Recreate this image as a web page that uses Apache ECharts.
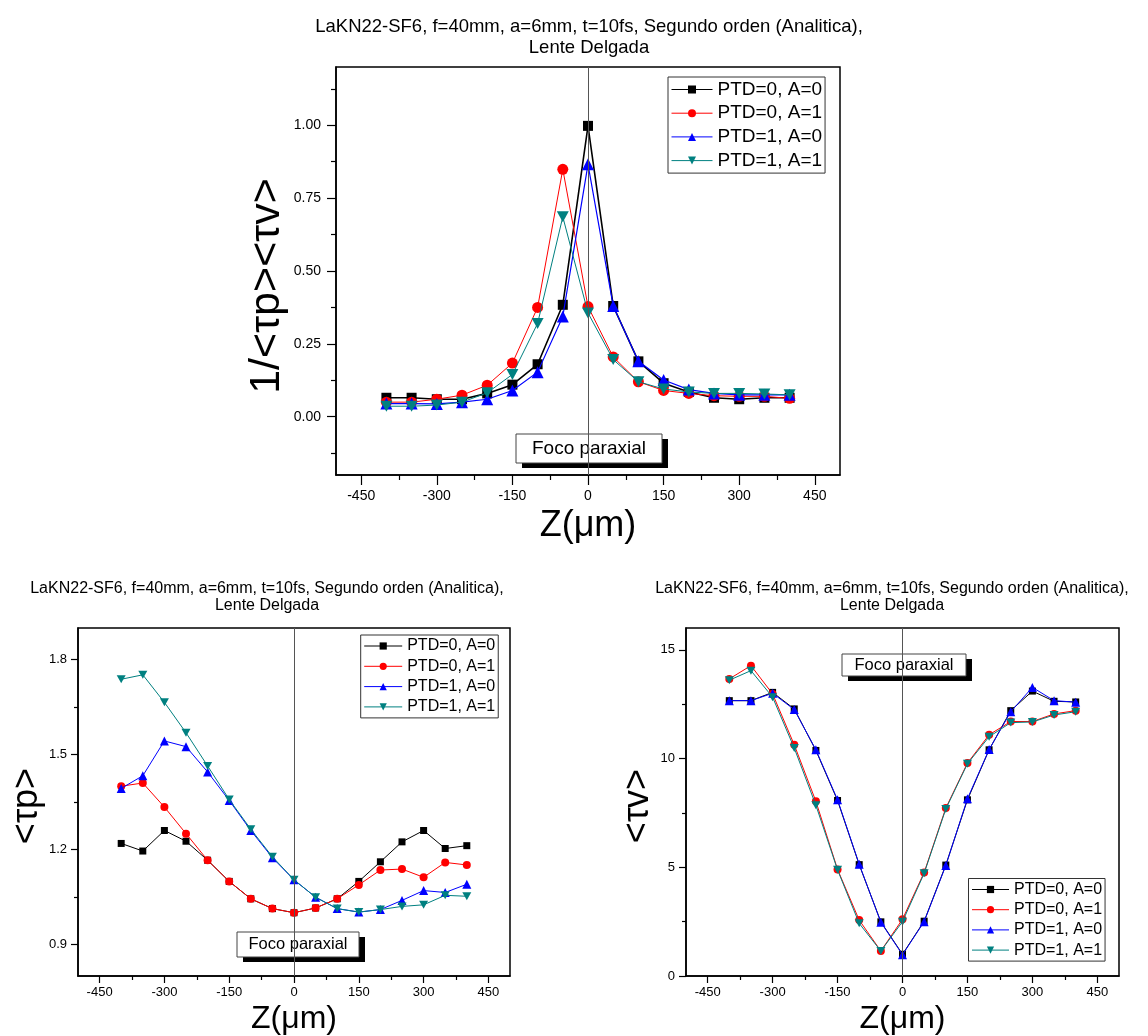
<!DOCTYPE html>
<html><head><meta charset="utf-8">
<script src="https://cdn.jsdelivr.net/npm/echarts@6/dist/echarts.min.js"></script>
<style>html,body{margin:0;padding:0;background:#fff}#c{width:1148px;height:1036px}</style>
</head><body><div id="c"></div>
<script>
// ---------- data ----------
const zPositions = [-400,-350,-300,-250,-200,-150,-100,-50,0,50,100,150,200,250,300,350,400];
const seriesNames = ['PTD=0, A=0','PTD=0, A=1','PTD=1, A=0','PTD=1, A=1'];
const titleText = 'LaKN22-SF6, f=40mm, a=6mm, t=10fs, Segundo orden (Analitica),\nLente Delgada';
const annotationText = 'Foco paraxial';
const xTickValues = [-450,-300,-150,0,150,300,450];
const xMinorTicks = [-375,-225,-75,75,225,375];

// chart 1: 1/<tp><tv>
const inv_p0a0 = [0.065,0.065,0.06,0.06,0.08,0.11,0.18,0.384,0.998,0.38,0.19,0.115,0.085,0.065,0.06,0.065,0.065];
const inv_p0a1 = [0.05,0.05,0.06,0.074,0.108,0.184,0.375,0.849,0.378,0.205,0.12,0.09,0.08,0.072,0.07,0.07,0.063];
const inv_p1a0 = [0.045,0.045,0.044,0.05,0.06,0.09,0.153,0.344,0.866,0.38,0.19,0.126,0.093,0.08,0.075,0.075,0.075];
const inv_p1a1 = [0.036,0.036,0.04,0.05,0.082,0.145,0.32,0.686,0.356,0.196,0.12,0.095,0.085,0.08,0.08,0.078,0.075];
const invYTicks = [0,0.25,0.5,0.75,1.0];
const invYMinor = [-0.125,0.125,0.375,0.625,0.875,1.125];

// chart 2: <tp>
const tp_p0a0 = [1.219,1.195,1.26,1.226,1.166,1.099,1.044,1.013,1.0,1.015,1.044,1.099,1.161,1.224,1.26,1.203,1.212];
const tp_p0a1 = [1.40,1.41,1.334,1.25,1.166,1.099,1.044,1.013,1.0,1.015,1.044,1.088,1.135,1.138,1.112,1.159,1.151];
const tp_p1a0 = [1.393,1.433,1.543,1.525,1.445,1.355,1.26,1.174,1.104,1.049,1.013,1.002,1.01,1.039,1.07,1.064,1.09];
const tp_p1a1 = [1.738,1.752,1.665,1.569,1.464,1.358,1.264,1.177,1.104,1.049,1.013,1.002,1.01,1.02,1.025,1.055,1.052];
const tpYTicks = [0.9,1.2,1.5,1.8];
const tpYMinor = [1.05,1.35,1.65];

// chart 3: <tv>
const tv_p0a0 = [12.66,12.66,13.04,12.28,10.37,8.07,5.12,2.49,1.0,2.52,5.1,8.1,10.4,12.2,13.1,12.63,12.6];
const tv_p0a1 = [13.66,14.27,12.97,10.63,8.03,4.9,2.57,1.15,2.61,4.76,7.72,9.79,11.09,11.7,11.7,12.05,12.2];
const tv_p1a0 = [12.66,12.66,13.0,12.25,10.4,8.1,5.14,2.47,0.98,2.5,5.08,8.15,10.41,12.15,13.27,12.66,12.59];
const tv_p1a1 = [13.6,14.04,12.82,10.48,7.85,4.88,2.42,1.15,2.5,4.72,7.68,9.76,11.0,11.65,11.68,12.0,12.15];
const tvYTicks = [0,5,10,15];
const tvYMinor = [2.5,7.5,12.5];

// ---------- styles ----------
const FONT = '"Liberation Sans", Arial, Helvetica, sans-serif';
const colors = ['#000000','#ff0000','#0000ff','#008080'];
const symbols = ['rect','circle','triangle','path://M0,0L20,0L10,17Z'];

const chart = echarts.init(document.getElementById('c'), null, {renderer:'canvas'});

const grids = [
  {left:336, top:67, width:504, height:408},
  {left:78, top:628, width:432, height:350},
  {left:686, top:628, width:433, height:350}
];

function xAxes(gi, name, nameSize, nameGap, labelSize, labelMargin, majorLen, minorLen){
  return [
    {type:'value', gridIndex:gi, min:-500, max:500, position:'bottom',
     axisLine:{show:true, onZero:false, lineStyle:{color:'#000', width:1.5}},
     axisTick:{show:true, length:majorLen, customValues:xTickValues, lineStyle:{color:'#000', width:1.2}},
     axisLabel:{show:true, customValues:xTickValues, fontSize:labelSize, color:'#000', fontFamily:FONT, margin:labelMargin},
     splitLine:{show:false},
     name:name, nameLocation:'middle', nameGap:nameGap,
     nameTextStyle:{fontSize:nameSize, color:'#000', fontFamily:FONT}},
    {type:'value', gridIndex:gi, min:-500, max:500, position:'bottom',
     axisLine:{show:false, onZero:false},
     axisTick:{show:true, length:minorLen, customValues:xMinorTicks, lineStyle:{color:'#000', width:1.2}},
     axisLabel:{show:false}, splitLine:{show:false}}
  ];
}
function yAxes(gi, min, max, majors, minors, digits, name, nameSize, nameGap, namePad, labelSize, labelMargin, majorLen, minorLen){
  return [
    {type:'value', gridIndex:gi, min:min, max:max, position:'left',
     axisLine:{show:true, onZero:false, lineStyle:{color:'#000', width:1.5}},
     axisTick:{show:true, length:majorLen, customValues:majors, lineStyle:{color:'#000', width:1.2}},
     axisLabel:{show:true, customValues:majors, fontSize:labelSize, color:'#000', fontFamily:FONT, margin:labelMargin,
       formatter:v=>Number(v).toFixed(digits)},
     splitLine:{show:false},
     name:name, nameLocation:'middle', nameGap:nameGap, nameRotate:90,
     nameTextStyle:{fontSize:nameSize, color:'#000', fontFamily:FONT, padding:namePad}},
    {type:'value', gridIndex:gi, min:min, max:max, position:'left',
     axisLine:{show:false, onZero:false},
     axisTick:{show:true, length:minorLen, customValues:minors, lineStyle:{color:'#000', width:1.2}},
     axisLabel:{show:false}, splitLine:{show:false}}
  ];
}

function makeSeries(gi, datasets, sizes, widths){
  return datasets.map((vals,k)=>{
    const s = {
      type:'line', name:seriesNames[k], xAxisIndex:gi*2, yAxisIndex:gi*2,
      data: zPositions.map((z,i)=>[z, vals[i]]),
      symbol:symbols[k], symbolSize:sizes[k], showSymbol:true,
      lineStyle:{color:colors[k], width:widths[k]},
      itemStyle:{color:colors[k]},
      z: 3 + k
    };
    if (k === 0) {
      s.markLine = {silent:true, symbol:'none', z:10, label:{show:false},
        lineStyle:{color:'#555', width:1, type:'solid'}, data:[{xAxis:0}]};
    }
    return s;
  });
}

const topSizes = [10,11,12,[12,11]];
const botSizes = [7,8,9,[9,8]];

const series = [].concat(
  makeSeries(0, [inv_p0a0, inv_p0a1, inv_p1a0, inv_p1a1], topSizes, [1.6,1,1.2,1]),
  makeSeries(1, [tp_p0a0, tp_p0a1, tp_p1a0, tp_p1a1], botSizes, [1,1,1,1]),
  makeSeries(2, [tv_p0a0, tv_p0a1, tv_p1a0, tv_p1a1], botSizes, [1,1,1,1])
);

function legend(left, top, itemWidth, itemHeight, fontSize, gap, lw){
  return {orient:'vertical', left:left, top:top, padding:[3,3,3,3], itemWidth:itemWidth, itemHeight:itemHeight,
    itemGap:gap, selectedMode:false, borderColor:'#333', borderWidth:1, backgroundColor:'#fff',
    lineStyle:{width:lw}, data:seriesNames,
    textStyle:{fontSize:fontSize, lineHeight:fontSize, color:'#000', fontFamily:FONT}};
}

function focoBox(x, y, w, h, fs){
  return {type:'group', z:1, children:[
    {type:'rect', shape:{x:x+6, y:y+5, width:w, height:h}, style:{fill:'#000'}},
    {type:'rect', shape:{x:x, y:y, width:w, height:h}, style:{fill:'#fff', stroke:'#444', lineWidth:1}},
    {type:'text', x:x + w/2, y:y + h/2, style:{text:annotationText, fontSize:fs, fontFamily:FONT, fill:'#000',
      align:'center', verticalAlign:'middle'}}
  ]};
}

const option = {
  animation:false,
  backgroundColor:'#fff',
  title:[
    {text:titleText, left:589, top:16, textAlign:'center', padding:0,
     textStyle:{fontSize:18.5, fontWeight:'normal', fontFamily:FONT, color:'#000', lineHeight:21}},
    {text:titleText, left:267, top:580, textAlign:'center', padding:0,
     textStyle:{fontSize:16, fontWeight:'normal', fontFamily:FONT, color:'#000', lineHeight:17}},
    {text:titleText, left:892, top:580, textAlign:'center', padding:0,
     textStyle:{fontSize:16, fontWeight:'normal', fontFamily:FONT, color:'#000', lineHeight:17}}
  ],
  grid: grids.map(g=>Object.assign({show:true, borderColor:'#000', borderWidth:1.5, backgroundColor:'transparent', containLabel:false}, g)),
  xAxis: [].concat(
    xAxes(0, 'Z(μm)', 36, 33, 14, 14, 10, 5),
    xAxes(1, 'Z(μm)', 32, 27, 13, 10, 7, 4),
    xAxes(2, 'Z(μm)', 32, 27, 13, 10, 7, 4)
  ),
  yAxis: [].concat(
    yAxes(0, -0.2, 1.2, invYTicks, invYMinor, 2, '1/<τp><τv>', 43, 47, [0,30,0,0], 14, 15, 9, 5),
    yAxes(1, 0.8, 1.9, tpYTicks, tpYMinor, 1, '<τp>', 36, 26, [0,8,0,0], 13, 11, 7, 4),
    yAxes(2, 0, 16, tvYTicks, tvYMinor, 0, '<τv>', 36, 30, [0,8,0,0], 13, 11, 7, 4)
  ),
  legend:[
    legend(668, 77, 41, 10, 19, 4.7, 1),
    legend(360.7, 635, 38, 9, 16, 4.3, 1),
    legend(968.5, 878.5, 37, 9, 16, 4.2, 1)
  ],
  graphic:[
    focoBox(516, 434, 146, 29, 19),
    focoBox(237, 932, 122, 25, 16.5),
    focoBox(842, 654, 124, 22, 16.5)
  ],
  series: series
};
chart.setOption(option);
</script>
</body></html>
